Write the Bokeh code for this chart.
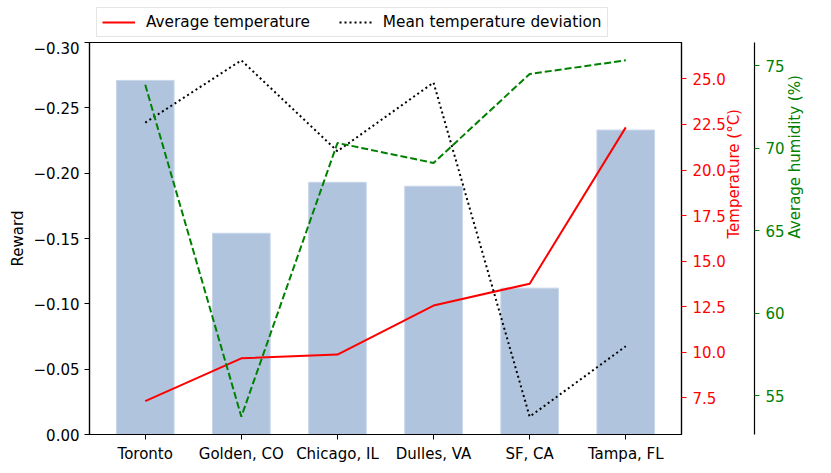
import math
from bokeh.plotting import figure
from bokeh.layouts import column
from bokeh.models import (Range1d, LinearAxis, FixedTicker, CustomJSTickFormatter,
                          PrintfTickFormatter, Legend, LegendItem, ColumnDataSource)
from bokeh.embed import file_html
from bokeh.resources import INLINE

cities = ["Toronto", "Golden, CO", "Chicago, IL", "Dulles, VA", "SF, CA", "Tampa, FL"]
reward = [-0.271, -0.154, -0.193, -0.190, -0.112, -0.233]
avg_temp = [7.31, 9.66, 9.87, 12.56, 13.76, 22.34]
temp_dev = [5.40, 6.10, 5.08, 5.85, 2.10, 2.89]
humidity = [73.85, 53.73, 70.32, 69.11, 74.50, 75.33]

reward_ticks = [0.0, -0.05, -0.10, -0.15, -0.20, -0.25, -0.30]
temp_ticks = [7.5, 10.0, 12.5, 15.0, 17.5, 20.0, 22.5, 25.0]
hum_ticks = [55, 60, 65, 70, 75]

xs = list(range(len(cities)))
src = ColumnDataSource(dict(x=xs, reward=reward, temp=avg_temp, dev=temp_dev, hum=humidity))

FONT = "DejaVu Sans"
FS = "15px"

RED_STYLE = dict(line_color="red", line_width=2)
DEV_STYLE = dict(line_color="black", line_width=2, line_dash="2 3")
HUM_STYLE = dict(line_color="green", line_width=2, line_dash="7 3")

# ---------- legend strip (own small figure above the chart) ----------
# its ranges keep the series out of view: only the legend is shown
lf = figure(width=823, height=41, output_backend="svg", toolbar_location=None,
            x_range=Range1d(1000, 1001), y_range=Range1d(1000, 1001),
            min_border_left=0, min_border_right=0, min_border_top=0, min_border_bottom=0)
lf.axis.visible = False
lf.grid.visible = False
lf.outline_line_color = None
lr = lf.line("x", "temp", source=src, **RED_STYLE)
ld = lf.line("x", "dev", source=src, **DEV_STYLE)
legend = Legend(items=[LegendItem(label="Average temperature", renderers=[lr]),
                       LegendItem(label="Mean temperature deviation", renderers=[ld])],
                orientation="horizontal", location=(7, 4), margin=0,
                padding=5, spacing=29, glyph_width=33, glyph_height=16,
                label_height=16, label_standoff=11,
                label_text_font=FONT, label_text_font_size="15.3px", label_text_color="black",
                border_line_color="#cccccc", border_line_width=1,
                background_fill_color="white", background_fill_alpha=0.8)
lf.add_layout(legend, "center")

# ---------- main chart ----------
p = figure(width=823, height=424, output_backend="svg", toolbar_location=None,
           x_range=Range1d(-0.58, len(cities) - 1 + 0.58),
           y_range=Range1d(0, -0.30),
           min_border_left=89, min_border_right=142, min_border_top=1, min_border_bottom=29)
p.xgrid.visible = False
p.ygrid.visible = False
p.outline_line_color = "black"
p.outline_line_width = 1.2
p.background_fill_color = "white"

p.extra_y_ranges = {
    "temp": Range1d(5.48, 27.0),
    "hum": Range1d(52.65, 76.41),
    "dev": Range1d(1.9, 6.3),
}

p.vbar(x="x", top="reward", bottom=0, width=0.6, source=src,
       fill_color="#b0c4de", line_color="#c8d6ea", line_width=1)
p.line("x", "temp", source=src, y_range_name="temp", **RED_STYLE)
p.line("x", "dev", source=src, y_range_name="dev", **DEV_STYLE)
p.line("x", "hum", source=src, y_range_name="hum", **HUM_STYLE)

def style(ax, color="black"):
    ax.major_label_text_font = FONT
    ax.major_label_text_font_size = FS
    ax.major_label_text_color = color
    ax.axis_label_text_font = FONT
    ax.axis_label_text_font_size = FS
    ax.axis_label_text_font_style = "normal"
    ax.axis_label_text_color = color
    ax.major_tick_line_color = color
    ax.major_tick_in = 0
    ax.major_tick_out = 5
    ax.minor_tick_line_color = None
    ax.axis_line_color = "black"
    ax.axis_line_width = 1.2
    ax.major_label_standoff = 6

# x axis
xa = p.xaxis[0]
xa.ticker = FixedTicker(ticks=xs)
xa.major_label_overrides = {i: c for i, c in enumerate(cities)}
style(xa)
xa.major_label_standoff = 5

# left axis
ya = p.yaxis[0]
ya.ticker = FixedTicker(ticks=reward_ticks)
ya.formatter = CustomJSTickFormatter(code="return (tick < -1e-9 ? '\\u2212' : '') + Math.abs(tick).toFixed(2);")
ya.axis_label = "Reward"
style(ya)
ya.major_label_standoff = 5
ya.axis_label_standoff = 4

# temperature axis
ta = LinearAxis(y_range_name="temp", ticker=FixedTicker(ticks=temp_ticks),
                formatter=PrintfTickFormatter(format="%.1f"), axis_label="Temperature (°C)")
style(ta, "red")
ta.axis_label_standoff = 5
p.add_layout(ta, "right")

# spacer axis (transparent label only takes room between the two right axes)
sp = LinearAxis(y_range_name="dev", ticker=FixedTicker(ticks=[4.0]))
sp.major_label_overrides = {4.0: "00"}
sp.major_label_text_font = FONT
sp.major_label_text_font_size = "14px"
sp.major_label_text_alpha = 0
sp.major_label_standoff = 0
sp.axis_line_color = None
sp.major_tick_line_color = None
sp.minor_tick_line_color = None
sp.major_tick_in = 0
sp.major_tick_out = 0
p.add_layout(sp, "right")

# humidity axis
ha = LinearAxis(y_range_name="hum", ticker=FixedTicker(ticks=hum_ticks),
                axis_label="Average humidity (%)")
style(ha, "green")
ha.axis_label_standoff = 7
p.add_layout(ha, "right")

for ax in (ta, ha):
    try:
        ax.axis_label_orientation = math.pi / 2
    except Exception:
        pass

open("out.html", "w").write(file_html(column(lf, p, spacing=0), INLINE))
